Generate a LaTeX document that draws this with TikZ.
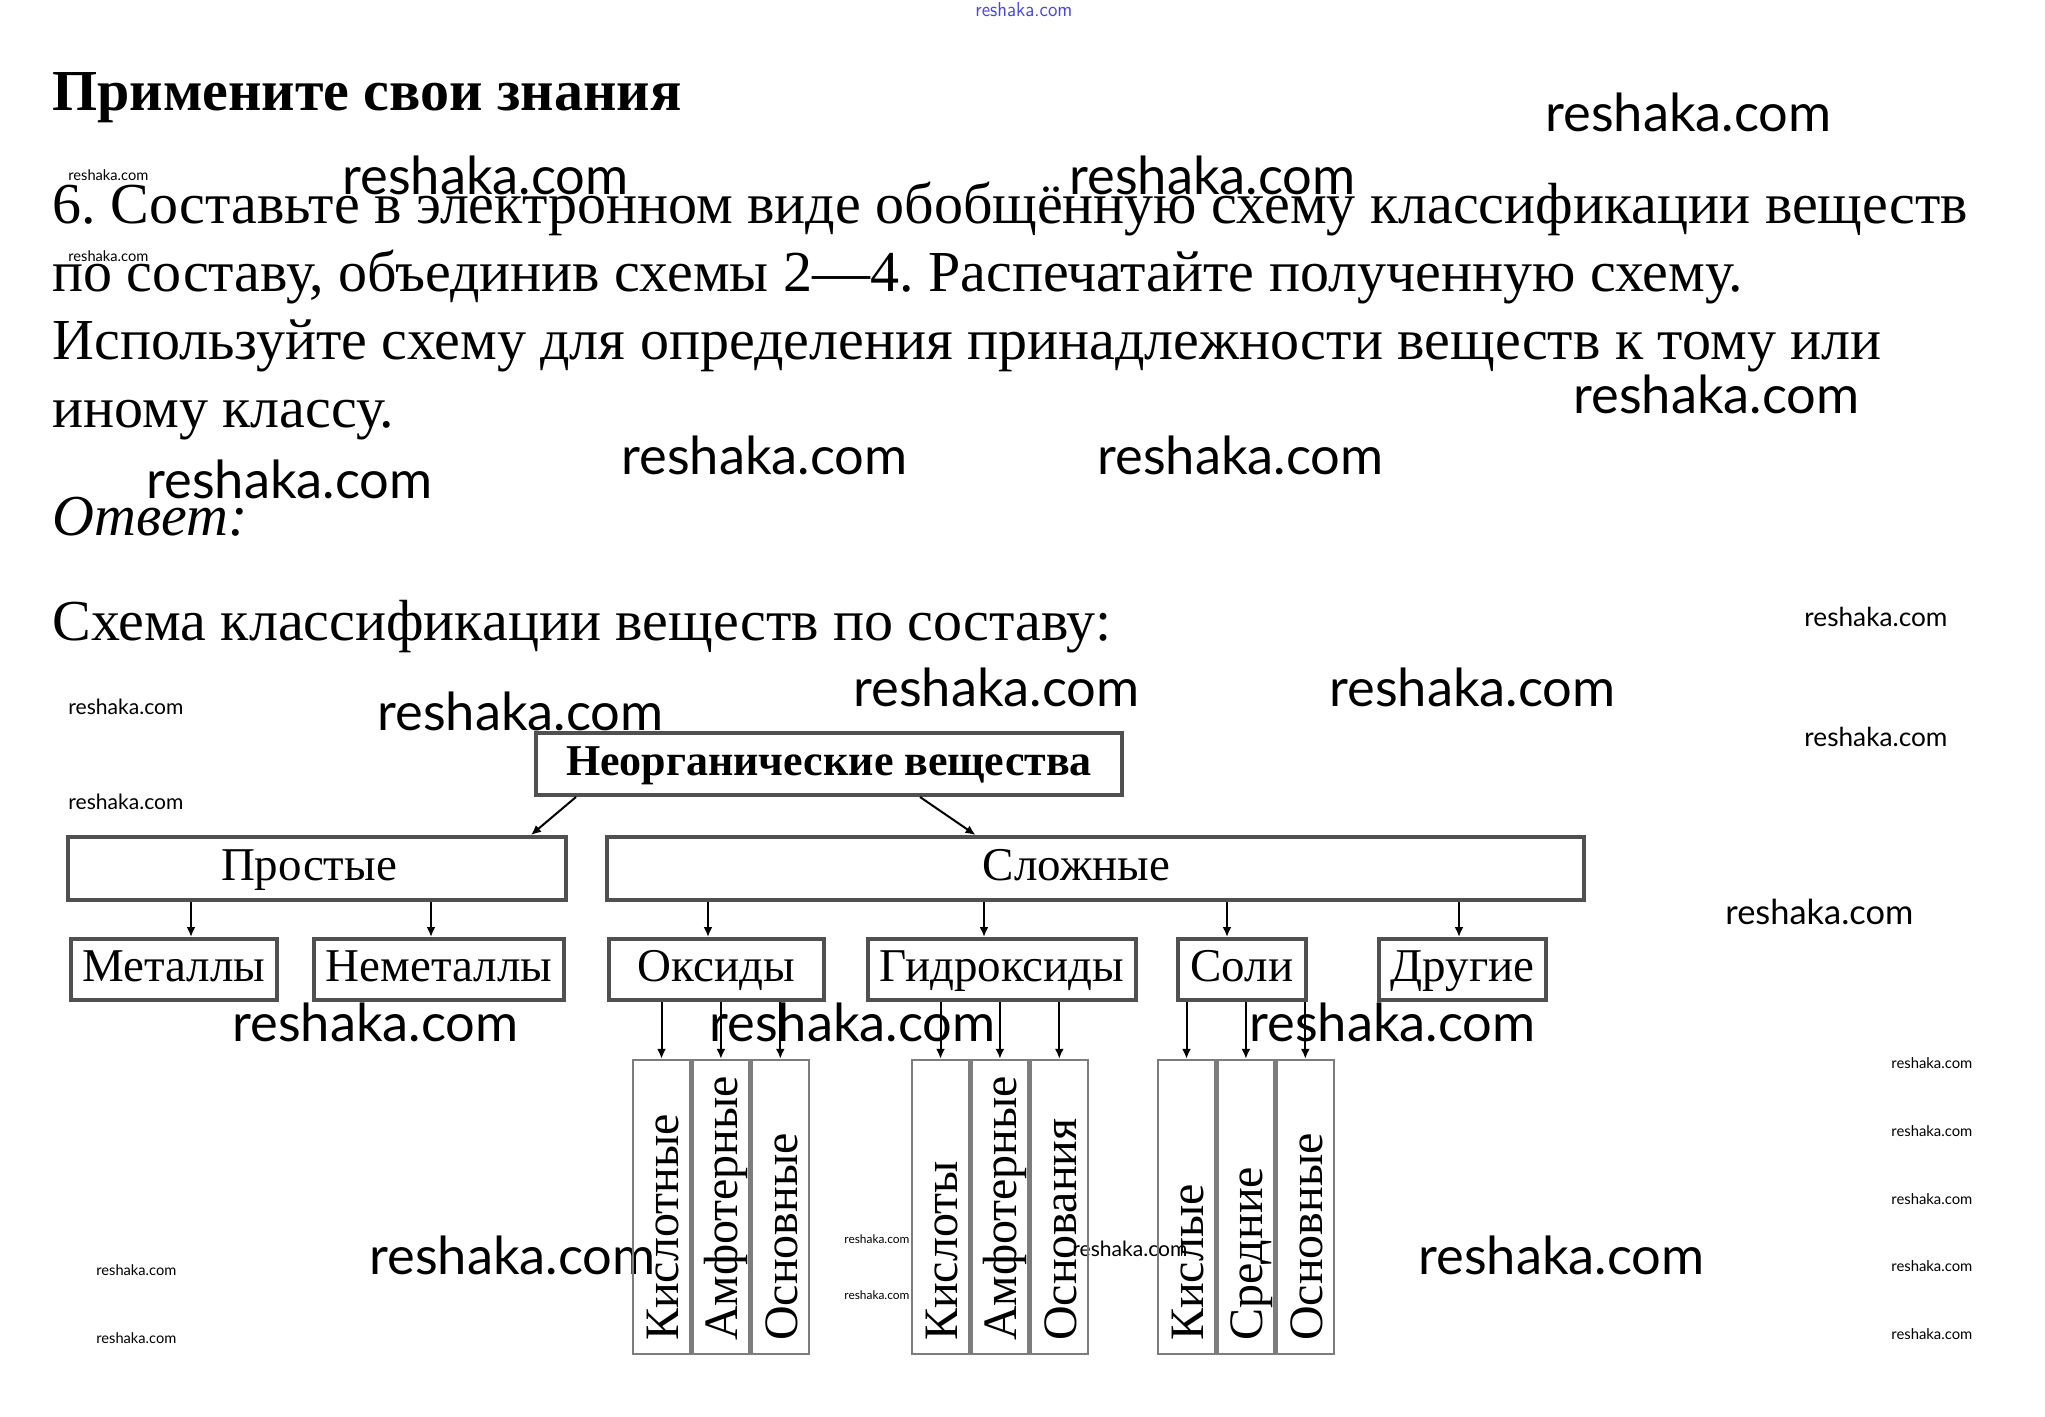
\documentclass[tikz,border=0pt]{standalone}
\usepackage{fontspec}
\setmainfont{Liberation Serif}
\newfontfamily\wmfont{Lato}
\usepackage{tikz}
\usetikzlibrary{arrows.meta,positioning}
\definecolor{frame}{RGB}{80,80,80}
\definecolor{colframe}{RGB}{125,125,125}
\definecolor{wmblue}{RGB}{70,70,225}
\newcommand{\wm}[1]{\resizebox{#1}{!}{\wmfont reshaka.com}}
\frenchspacing

\begin{document}
\begin{tikzpicture}[x=0.5pt,y=-0.5pt,
    txt/.style={anchor=base west,inner sep=0pt,
      font=\fontsize{29}{34}\selectfont},
    box/.style={draw=frame,line width=2pt,inner sep=0pt,
      text height=16pt,text depth=4.5pt,
      font=\fontsize{23.5}{26}\selectfont},
    row/.style={box,minimum height=30.5pt},
    col/.style={draw=colframe,line width=1.2pt,inner sep=0pt,
      minimum width=28.5pt,minimum height=147pt},
    collab/.style={rotate=90,anchor=base west,inner sep=0pt,
      font=\fontsize{24}{26}\selectfont},
    arr/.style={-{Latex[length=5pt,width=4.5pt]},line width=1pt},
    wmark/.style={anchor=west,inner sep=0pt}
  ]
  \useasboundingbox[fill=white] (0,0) rectangle (2045,1417);

  \node[wmark,text=wmblue] (wtop) at (975,10)
    {\resizebox{48.5pt}{7pt}{\sffamily reshaka.com}};
  \node[wmark] (w1) at (1545,112) {\wm{143pt}};
  \node[wmark] (w2) at (342,175) {\wm{143pt}};
  \node[wmark] (w3) at (1069,175) {\wm{143pt}};
  \node[wmark] (w4) at (1573,394) {\wm{143pt}};
  \node[wmark] (w5) at (621,455) {\wm{143pt}};
  \node[wmark] (w6) at (1097,455) {\wm{143pt}};
  \node[wmark] (w7) at (146,479) {\wm{143pt}};
  \node[wmark] (w8) at (853,687) {\wm{143pt}};
  \node[wmark] (w9) at (1329,687) {\wm{143pt}};
  \node[wmark] (w10) at (377,711) {\wm{143pt}};
  \node[wmark] (w11) at (1725,912) {\wm{94pt}};
  \node[wmark] (w12) at (232,1022) {\wm{143pt}};
  \node[wmark] (w13) at (709,1022) {\wm{143pt}};
  \node[wmark] (w14) at (1249,1022) {\wm{143pt}};
  \node[wmark] (w15) at (369,1255) {\wm{143pt}};
  \node[wmark] (w16) at (1418,1255) {\wm{143pt}};
  \node[wmark] (s1) at (68,175) {\wm{40pt}};
  \node[wmark] (s2) at (68,256) {\wm{40pt}};
  \node[wmark] (s3) at (1804,617) {\wm{71.5pt}};
  \node[wmark] (s4) at (1804,737) {\wm{71.5pt}};
  \node[wmark] (s5) at (68,707) {\wm{57.5pt}};
  \node[wmark] (s6) at (68,802) {\wm{57.5pt}};
  \foreach \y [count=\i] in {1063,1131,1199,1266,1334}
    \node[wmark] (r\i) at (1891,\y) {\wm{40.5pt}};
  \node[wmark] (s7) at (96,1270) {\wm{40pt}};
  \node[wmark] (s8) at (96,1338) {\wm{40pt}};
  \node[wmark] (s9) at (844,1239) {\wm{32.5pt}};
  \node[wmark] (s10) at (844,1295) {\wm{32.5pt}};
  \node[wmark] (s11) at (1072,1249) {\wm{57.5pt}};

  \node[txt,font=\fontsize{29}{34}\selectfont\bfseries] (title) at (52,111)
    {Примените свои знания};
  \node[txt] (l1) at (52,224)
    {6. Составьте в электронном виде обобщённую схему классификации веществ};
  \node[txt] (l2) at (52,292)
    {по составу, объединив схемы 2—4. Распечатайте полученную схему.};
  \node[txt] (l3) at (52,360)
    {Используйте схему для определения принадлежности веществ к тому или};
  \node[txt] (l4) at (52,428) {иному классу.};
  \node[txt,font=\fontsize{29}{34}\selectfont\itshape] (otv) at (52,535)
    {Ответ:};
  \node[txt] (cap) at (52,640) {Схема классификации веществ по составу:};

  \node[box,font=\fontsize{22}{24}\selectfont\bfseries,
    minimum width=293pt,minimum height=31pt] (neorg) at (829,764)
    {Неорганические вещества};
  \node[box,minimum width=249pt,minimum height=31.5pt] (prost)
    at (317,868.5) {Простые\kern8pt};
  \node[box,minimum width=488.5pt,minimum height=31.5pt] (slozh)
    at (1095.5,868.5) {Сложные\kern19pt};

  \node[row,minimum width=103pt] (met) at (174,969.5) {Металлы};
  \node[row,minimum width=125pt] (nemet) at (439,969.5) {Неметаллы};
  \node[row,minimum width=107.5pt] (oks) at (716.5,969.5) {Оксиды};
  \node[row,minimum width=134pt] (gidr) at (1002,969.5) {Гидроксиды};
  \node[row,minimum width=64pt] (soli) at (1242,969.5) {Соли};
  \node[row,minimum width=83.5pt] (drug) at (1462.5,969.5) {Другие};

  \node[col] (ko1) at (661.5,1207) {};
  \node[col,right=0pt of ko1] (ko2) {};
  \node[col,right=0pt of ko2] (ko3) {};
  \node[col] (kg1) at (940.5,1207) {};
  \node[col,right=0pt of kg1] (kg2) {};
  \node[col,right=0pt of kg2] (kg3) {};
  \node[col] (ks1) at (1186.5,1207) {};
  \node[col,right=0pt of ks1] (ks2) {};
  \node[col,right=0pt of ks2] (ks3) {};

  \foreach \c/\t in {ko1/Кислотные,ko2/Амфотерные,ko3/Основные,
      kg1/Кислоты,kg2/Амфотерные,kg3/Основания,
      ks1/Кислые,ks2/Средние,ks3/Основные}
    \node[collab] (t-\c) at ([xshift=8.5pt,yshift=7pt]\c.south) {\t};

  \draw[arr] ([xshift=-126.5pt]neorg.south) -- ([xshift=107pt]prost.north);
  \draw[arr] ([xshift=45.5pt]neorg.south) -- ([xshift=-60pt]slozh.north);
  \foreach \n/\d in {met/8.5pt,nemet/-4pt}
    \draw[arr] ([xshift=\d]\n.north |- prost.south) -- ([xshift=\d]\n.north);
  \foreach \n/\d in {oks/-4.25pt,gidr/-9pt,soli/-7.5pt,drug/-1.75pt}
    \draw[arr] ([xshift=\d]\n.north |- slozh.south) -- ([xshift=\d]\n.north);
  \foreach \p/\c in {oks/ko1,oks/ko2,oks/ko3,gidr/kg1,gidr/kg2,gidr/kg3,
      soli/ks1,soli/ks2,soli/ks3}
    \draw[arr] (\p.south -| \c.north) -- (\c.north);
\end{tikzpicture}
\end{document}
